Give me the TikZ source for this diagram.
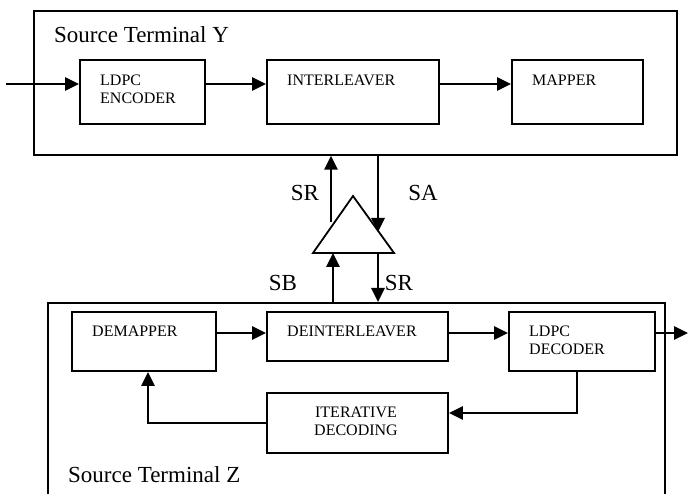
\documentclass[tikz,border=0pt]{standalone}
\usepackage{fontspec}
\setmainfont{Liberation Serif}
\usetikzlibrary{arrows.meta}
\begin{document}
\begin{tikzpicture}[x=1pt,y=-1pt,
  frame/.style={draw,line width=1.6pt,inner sep=0,anchor=north west},
  blk/.style={draw,line width=1.9pt,inner sep=0,anchor=north west},
  conn/.style={line width=2.6pt,-{Triangle[length=14pt,width=13pt]}},
  small/.style={font=\fontsize{16}{18}\selectfont,inner sep=0,anchor=base west,align=left},
  smallc/.style={font=\fontsize{16}{18}\selectfont,inner sep=0,anchor=base,align=center},
  big/.style={font=\fontsize{23}{26}\selectfont,inner sep=0}]
\useasboundingbox (0,0) rectangle (688,494);
% Source terminal Y
\node[frame,minimum width=643pt,minimum height=144pt] (Y) at (33,10) {};
\node[big,anchor=base west] (ty) at (54,43) {Source Terminal Y};
\node[blk,minimum width=125pt,minimum height=64pt] (enc) at (79,59) {};
\node[blk,minimum width=172pt,minimum height=64pt] (int) at (266,59) {};
\node[blk,minimum width=131pt,minimum height=64pt] (map) at (511,59) {};
\node[small] (tenc) at (100,104) {LDPC\\ENCODER};
\node[small] (tint) at (287,86) {INTERLEAVER};
\node[small] (tmap) at (532,86) {MAPPER};
\coordinate (in) at (6,84);
\draw[conn] (in) -- (in -| enc.west);
\draw[conn] (enc.east |- in) -- (int.west |- in);
\draw[conn] (int.east |- in) -- (map.west |- in);
% relay
\coordinate (apex) at (353,196);
\coordinate (bl) at (313,253);
\coordinate (br) at (394,253);
\draw[line width=1.8pt,line join=miter] (bl) -- (apex) -- (br) -- cycle;
% Source terminal Z
\node[frame,minimum width=617pt,minimum height=220pt] (Z) at (47,302) {};
\node[big,anchor=base west] (tz) at (68,482) {Source Terminal Z};
\node[blk,minimum width=144pt,minimum height=59pt] (dem) at (71,311) {};
\node[blk,minimum width=181pt,minimum height=49pt] (deint) at (266,311) {};
\node[blk,minimum width=146pt,minimum height=59pt] (dec) at (508,311) {};
\node[blk,minimum width=181pt,minimum height=60pt] (iter) at (266,392) {};
\node[small] (tdem) at (92,336) {DEMAPPER};
\node[small] (tdeint) at (287,336) {DEINTERLEAVER};
\node[small] (tdec) at (529,354) {LDPC\\DECODER};
\node[smallc] (titer) at (356,435) {ITERATIVE\\DECODING};
% relay links
\coordinate (sr1) at (331,222);
\coordinate (sa) at (378,232);
\coordinate (sb) at (333,253);
\coordinate (sr2) at (378,253);
\draw[conn] (sr1) -- (sr1 |- Y.south);
\draw[conn] (sa |- Y.south) -- (sa);
\draw[conn] (sb |- Z.north) -- (sb);
\draw[conn] (sr2) -- (sr2 |- Z.north);
\node[big] (lsr1) at (305,193) {SR};
\node[big] (lsa) at (423,193) {SA};
\node[big] (lsb) at (283,283) {SB};
\node[big] (lsr2) at (399,283) {SR};
% Z connectors
\coordinate (r) at (0,333);
\coordinate (out) at (688,333);
\draw[conn] (dem.east |- r) -- (deint.west |- r);
\draw[conn] (deint.east |- r) -- (dec.west |- r);
\draw[conn] (dec.east |- r) -- (out);
\coordinate (fb1) at (577,413);
\coordinate (fb2) at (148,423);
\draw[conn,line join=miter] (fb1 |- dec.south) -- (fb1) -- (fb1 -| iter.east);
\draw[conn,line join=miter] (fb2 -| iter.west) -- (fb2) -- (fb2 |- dem.south);
\end{tikzpicture}
\end{document}
